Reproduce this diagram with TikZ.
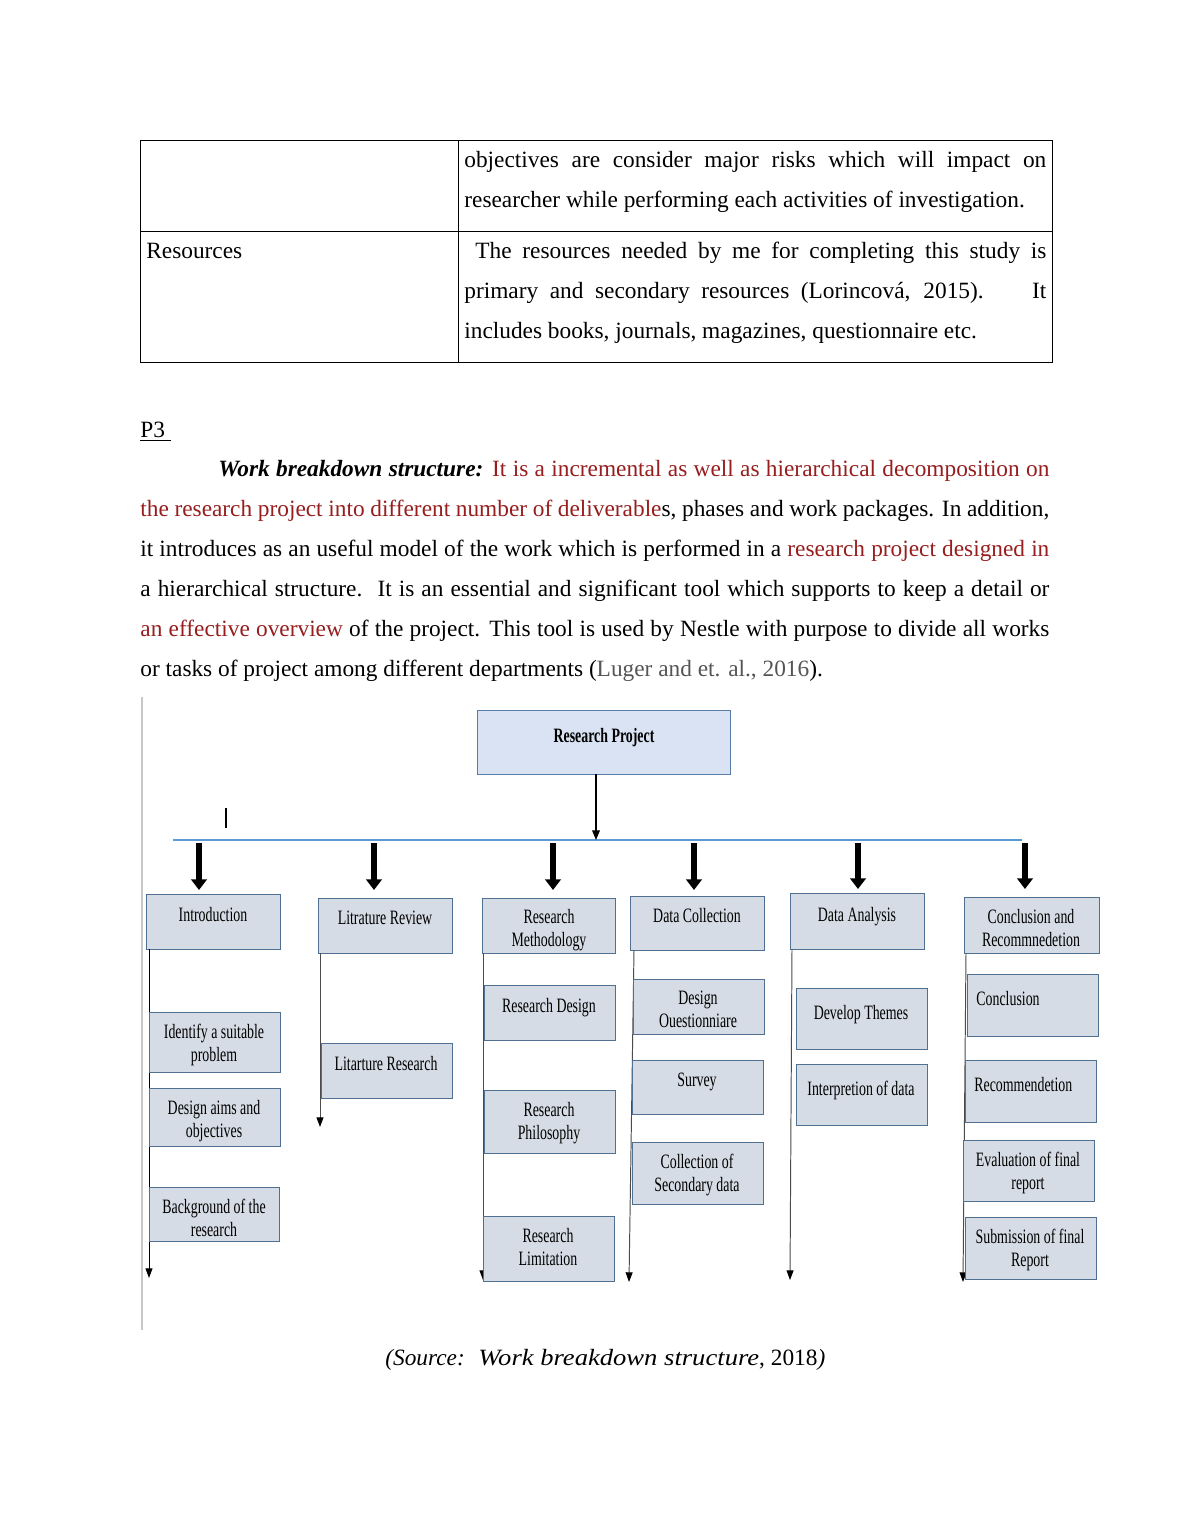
\documentclass[tikz,border=0pt]{standalone}
\usepackage{fontspec}
\setmainfont{Liberation Serif}
\newfontfamily\boxfont[FakeStretch=0.68]{Liberation Serif}
\usetikzlibrary{arrows.meta,fit,positioning}

\definecolor{projfill}{RGB}{218,227,243}
\definecolor{projline}{RGB}{90,125,165}
\definecolor{boxfill}{RGB}{214,220,229}
\definecolor{boxline}{RGB}{79,112,145}
\definecolor{barblue}{RGB}{91,155,213}
\definecolor{darkred}{RGB}{150,30,30}
\definecolor{citegrey}{RGB}{85,85,85}
\definecolor{framegrey}{RGB}{200,200,200}

\tikzset{
  body/.style={anchor=base west, inner sep=0pt, font=\fontsize{12}{14}\selectfont},
  wbox/.style={draw=boxline, fill=boxfill, line width=0.5pt, inner sep=0pt},
  lbl/.style={anchor=north, inner sep=0pt, align=center, font=\boxfont\fontsize{10.5}{11.8}\selectfont},
  fat/.style={line width=3pt, -{Triangle[width=8pt,length=5.5pt]}},
  down/.style={black!70, line width=0.5pt, -{Triangle[width=3.6pt,length=5pt,color=black]}},
}

\begin{document}
\begin{tikzpicture}[x=0.5143pt, y=-0.5143pt]
  \useasboundingbox[fill=white] (0,0) rectangle (1190,1540);

  % table
  \draw[line width=0.5pt] (140,140) rectangle (1052,362);
  \draw[line width=0.5pt] (458,140) -- (458,362);
  \draw[line width=0.5pt] (140,231) -- (1052,231);
  \node[body] (obj1) at (464,167) {\makebox[299.3pt][s]{objectives are consider major risks which will impact on}};
  \node[body] (obj2) at (464,207) {researcher while performing each activities of investigation.};
  \node[body] (resrc) at (146,258) {Resources};
  \node[body] (res1) at (475,258) {\makebox[293.7pt][s]{The resources needed by me for completing this study is}};
  \node[body] (res2) at (464,298) {\makebox[299.3pt][s]{primary and secondary resources (Lorincová, 2015).\hspace{12pt} It}};
  \node[body] (res3) at (464,338) {includes books, journals, magazines, questionnaire etc.};

  % paragraph
  \node[body] (ptitle) at (140,437) {\underline{P3\ }};
  \node[body] (par1) at (218,476) {\makebox[427.4pt][s]{\textbf{\textit{Work breakdown structure:}} \textcolor{darkred}{It is a incremental as well as hierarchical decomposition on}}};
  \node[body] (par2) at (140,516) {\makebox[467.5pt][s]{\textcolor{darkred}{the research project into different number of deliverable}s, phases and work packages. In addition,}};
  \node[body] (par3) at (140,556) {\makebox[467.5pt][s]{it introduces as an useful model of the work which is performed in a \textcolor{darkred}{research project designed in}}};
  \node[body] (par4) at (140,596) {\makebox[467.5pt][s]{a hierarchical structure.\hspace{2pt} It is an essential and significant tool which supports to keep a detail or}};
  \node[body] (par5) at (140,636) {\makebox[467.5pt][s]{\textcolor{darkred}{an effective overview} of the project. This tool is used by Nestle with purpose to divide all works}};
  \node[body] (par6) at (140,676) {or tasks of project among different departments (\textcolor{citegrey}{Luger and et. al., 2016}).};

  % diagram frame edge and stray tick
  \draw[framegrey, line width=1pt] (142,697) -- (142,1330);
  \coordinate (tickA) at (226,808);
  \coordinate (tickB) at (226,828);
  \draw[line width=0.6pt] (tickA) -- (tickB);

  % top box
  \node[draw=projline, fill=projfill, line width=0.5pt, inner sep=0pt, fit={(477,710) (730,774)}] (rp) {};
  \node[lbl, font=\boxfont\bfseries\fontsize{10.5}{11.8}\selectfont] at (604,728) {Research Project};

  % bar
  \coordinate (barL) at (173,840);
  \coordinate (barR) at (1022,840);
  \coordinate (hit) at (596,840);
  \draw[barblue, line width=1.4pt] (barL) -- (barR);
  \draw[line width=0.6pt, -{Triangle[width=4pt,length=5pt]}] (rp.south -| hit) -- (hit);

  % second level
  \node[wbox, fit={(146,894) (280,949)}] (intro) {};
  \node[lbl] at (213,907) {Introduction};
  \node[wbox, fit={(318,898) (452,953)}] (litrev) {};
  \node[lbl] at (385,911) {Litrature Review};
  \node[wbox, fit={(482,898) (615,953)}] (resmeth) {};
  \node[lbl] at (549,909) {Research\\Methodology};
  \node[wbox, fit={(630,896) (764,950)}] (datacol) {};
  \node[lbl] at (697,908) {Data Collection};
  \node[wbox, fit={(790,893) (924,949)}] (dataan) {};
  \node[lbl] at (857,907) {Data Analysis};
  \node[wbox, fit={(964,897) (1099,953)}] (concrec) {};
  \node[lbl] at (1031,909) {Conclusion and\\Recommnedetion};

  % thick arrows
  \coordinate (f1) at (199,843);  \coordinate (g1) at (199,890);
  \coordinate (f2) at (374,843);  \coordinate (g2) at (374,890);
  \coordinate (f3) at (553,843);  \coordinate (g3) at (553,890);
  \coordinate (f4) at (694,843);  \coordinate (g4) at (694,890);
  \coordinate (f5) at (858,843);  \coordinate (g5) at (858,889);
  \coordinate (f6) at (1025,843); \coordinate (g6) at (1025,889);
  \draw[fat] (f1) -- (g1);
  \draw[fat] (f2) -- (g2);
  \draw[fat] (f3) -- (g3);
  \draw[fat] (f4) -- (g4);
  \draw[fat] (f5) -- (g5);
  \draw[fat] (f6) -- (g6);

  % thin downward lines
  \coordinate (introEnd) at (149,1278);
  \coordinate (litEnd) at (320,1127);
  \coordinate (methEnd) at (483,1280);
  \coordinate (colTop) at (634,950);
  \coordinate (colEnd) at (629,1282);
  \coordinate (anTop) at (792,949);
  \coordinate (anEnd) at (790,1280);
  \coordinate (concTop) at (966,953);
  \coordinate (concEnd) at (963,1282);
  \draw[down, black] (intro.south -| introEnd) -- (introEnd);
  \draw[down] (litrev.south -| litEnd) -- (litEnd);
  \draw[down] (resmeth.south -| methEnd) -- (methEnd);
  \draw[down] (colTop) -- (colEnd);
  \draw[down] (anTop) -- (anEnd);
  \draw[down] (concTop) -- (concEnd);

  % third level
  \node[wbox, fit={(149,1012) (280,1072)}] (identify) {};
  \node[lbl] at (214,1024) {Identify a suitable\\problem};
  \node[wbox, fit={(149,1088) (280,1146)}] (aims) {};
  \node[lbl] at (214,1100) {Design aims and\\objectives};
  \node[wbox, fit={(149,1187) (279,1241)}] (backgr) {};
  \node[lbl] at (214,1199) {Background of the\\research};

  \node[wbox, fit={(321,1043) (452,1098)}] (litres) {};
  \node[lbl] at (386,1056) {Litarture Research};

  \node[wbox, fit={(484,985) (615,1040)}] (resdes) {};
  \node[lbl] at (549,998) {Research Design};
  \node[wbox, fit={(484,1090) (615,1153)}] (resphil) {};
  \node[lbl] at (549,1102) {Research\\Philosophy};
  \node[wbox, fit={(483,1216) (614,1281)}] (reslim) {};
  \node[lbl] at (548,1228) {Research\\Limitation};

  \node[wbox, fit={(633,979) (764,1034)}] (desq) {};
  \node[lbl] at (698,991) {Design\\Ouestionniare};
  \node[wbox, fit={(632,1060) (763,1114)}] (survey) {};
  \node[lbl] at (697,1073) {Survey};
  \node[wbox, fit={(632,1142) (763,1204)}] (collsec) {};
  \node[lbl] at (697,1154) {Collection of\\Secondary data};

  \node[wbox, fit={(796,988) (927,1049)}] (devth) {};
  \node[lbl] at (861,1005) {Develop Themes};
  \node[wbox, fit={(796,1064) (927,1125)}] (interp) {};
  \node[lbl] at (861,1081) {Interpretion of data};

  \node[wbox, fit={(967,974) (1098,1036)}] (conc) {};
  \node[lbl, anchor=north west] at (976,991) {Conclusion};
  \node[wbox, fit={(965,1060) (1096,1122)}] (recom) {};
  \node[lbl, anchor=north west] at (974,1077) {Recommendetion};
  \node[wbox, fit={(963,1140) (1094,1201)}] (evalr) {};
  \node[lbl] at (1028,1152) {Evaluation of final\\report};
  \node[wbox, fit={(965,1217) (1096,1279)}] (subm) {};
  \node[lbl] at (1030,1229) {Submission of final\\Report};

  % caption
  \node[body] (cap) at (385,1365) {\textit{(Source:\hspace{3pt} \scalebox{1.14}[1]{Work breakdown structure}}, 2018\textit{)}};
\end{tikzpicture}
\end{document}
